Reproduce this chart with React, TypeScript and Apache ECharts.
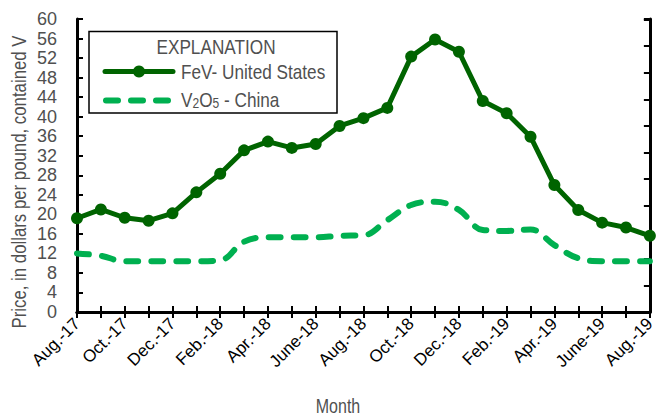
import React, { useEffect, useRef } from "react";
import * as echarts from "echarts";

const months = [
  "Aug.-17", "Sep.-17", "Oct.-17", "Nov.-17", "Dec.-17", "Jan.-18", "Feb.-18",
  "Mar.-18", "Apr.-18", "May-18", "June-18", "July-18", "Aug.-18", "Sep.-18",
  "Oct.-18", "Nov.-18", "Dec.-18", "Jan.-19", "Feb.-19", "Mar.-19", "Apr.-19",
  "May-19", "June-19", "July-19", "Aug.-19",
];

const fevUS = [
  19.2, 21.0, 19.3, 18.7, 20.2, 24.5, 28.3, 33.1, 34.9, 33.6, 34.4, 38.1, 39.7,
  41.8, 52.3, 55.8, 53.3, 43.2, 40.7, 35.9, 26.0, 20.9, 18.3, 17.3, 15.6,
];

const v2o5China = [
  12.0, 11.5, 10.4, 10.4, 10.4, 10.4, 10.6, 14.4, 15.3, 15.3, 15.3, 15.6, 15.7,
  18.8, 21.9, 22.6, 20.9, 16.8, 16.6, 16.9, 13.7, 11.0, 10.4, 10.4, 10.4,
];

const yTicks = { min: 0, max: 60, interval: 4 };

const LEGEND_TITLE = "EXPLANATION";
const FEV_NAME = "FeV- United States";
const Y_NAME = "Price, in dollars per pound, contained V";
const X_NAME = "Month";

const DARK = "#006400";
const LIGHT = "#00b050";
const GRAY = "#505050";
const SANS = "'Liberation Sans', Arial, sans-serif";

export default function App() {
  const ref = useRef<HTMLDivElement>(null);
  useEffect(() => {
    if (!ref.current) return;
    const chart = echarts.init(ref.current, undefined, { renderer: "svg" });
    const axisLine = { show: true, lineStyle: { color: "#000", width: 3 } };
    const tick = { show: true, inside: true, length: 6, lineStyle: { color: "#000", width: 2 } };
    chart.setOption({
      animation: false,
      grid: { left: 77, right: 2, top: 19, bottom: 106, containLabel: false },
      xAxis: [
        {
          type: "category",
          data: months,
          boundaryGap: false,
          position: "bottom",
          axisLine,
          axisTick: { ...tick, interval: 0 },
          axisLabel: {
            interval: 1,
            rotate: 45,
            margin: 9,
            color: "#000",
            fontFamily: SANS,
            fontSize: 17,
            showMinLabel: true,
            showMaxLabel: true,
          },
          splitLine: { show: false },
        },
        {
          type: "category",
          data: months,
          boundaryGap: false,
          position: "top",
          axisLine,
          axisTick: { ...tick, interval: 0 },
          axisLabel: { show: false },
          splitLine: { show: false },
        },
      ],
      yAxis: [
        {
          type: "value",
          min: yTicks.min,
          max: yTicks.max,
          interval: yTicks.interval,
          position: "left",
          axisLine,
          axisTick: tick,
          axisLabel: {
            color: GRAY,
            fontFamily: SANS,
            fontSize: 18,
            margin: 20,
            showMinLabel: true,
            showMaxLabel: true,
          },
          splitLine: { show: false },
        },
        {
          type: "value",
          min: 0,
          max: yTicks.max * 2.20462,
          interval: 12,
          position: "right",
          axisLine,
          axisTick: tick,
          axisLabel: { show: false },
          splitLine: { show: false },
        },
      ],
      series: [
        {
          name: "V2O5 - China",
          type: "line",
          data: v2o5China,
          smooth: 0.4,
          showSymbol: false,
          symbol: "none",
          lineStyle: { color: LIGHT, width: 6, type: [12, 13], cap: "round" },
          z: 2,
        },
        {
          name: FEV_NAME,
          type: "line",
          data: fevUS,
          symbol: "circle",
          symbolSize: 12,
          itemStyle: { color: DARK },
          lineStyle: { color: DARK, width: 5 },
          z: 3,
        },
      ],
      graphic: [
        {
          type: "rect",
          shape: { x: 89, y: 31.5, width: 248, height: 81.5 },
          style: { fill: "#fff", stroke: "#000", lineWidth: 1.5 },
          z: 10,
        },
        {
          type: "text",
          x: 216,
          y: 47,
          scaleX: 0.86,
          style: { text: LEGEND_TITLE, fill: GRAY, font: `20px ${SANS}`, align: "center", verticalAlign: "middle" },
          z: 11,
        },
        {
          type: "line",
          shape: { x1: 105, y1: 71.5, x2: 173, y2: 71.5 },
          style: { stroke: DARK, lineWidth: 5, lineCap: "round" },
          z: 11,
        },
        {
          type: "circle",
          shape: { cx: 139, cy: 71.5, r: 6 },
          style: { fill: DARK },
          z: 11,
        },
        {
          type: "text",
          x: 181,
          y: 72,
          scaleX: 0.86,
          style: { text: FEV_NAME, fill: GRAY, font: `20px ${SANS}`, verticalAlign: "middle" },
          z: 11,
        },
        {
          type: "line",
          shape: { x1: 106, y1: 100.5, x2: 168, y2: 100.5 },
          style: { stroke: LIGHT, lineWidth: 6, lineCap: "round", lineDash: [12, 13] },
          z: 11,
        },
        {
          type: "text",
          x: 181,
          y: 100,
          scaleX: 0.86,
          style: {
            text: "{n|V}{s|2}{n|O}{s|5}{n| - China}",
            verticalAlign: "middle",
            rich: {
              n: { fill: GRAY, font: `20px ${SANS}`, verticalAlign: "middle" },
              s: { fill: GRAY, font: `14px ${SANS}`, padding: [7, 0, 0, 0], verticalAlign: "middle" },
            },
          },
          z: 11,
        },
        {
          type: "text",
          x: 19,
          y: 182,
          rotation: Math.PI / 2,
          scaleX: 0.84,
          style: { text: Y_NAME, fill: GRAY, font: `20px ${SANS}`, align: "center", verticalAlign: "middle" },
        },
        {
          type: "text",
          x: 338,
          y: 406,
          scaleX: 0.8,
          style: { text: X_NAME, fill: GRAY, font: `20px ${SANS}`, align: "center", verticalAlign: "middle" },
        },
      ],
    });
    return () => chart.dispose();
  }, []);
  return <div ref={ref} style={{ width: 658, height: 418, position: "absolute", left: 0, top: 0 }} />;
}
